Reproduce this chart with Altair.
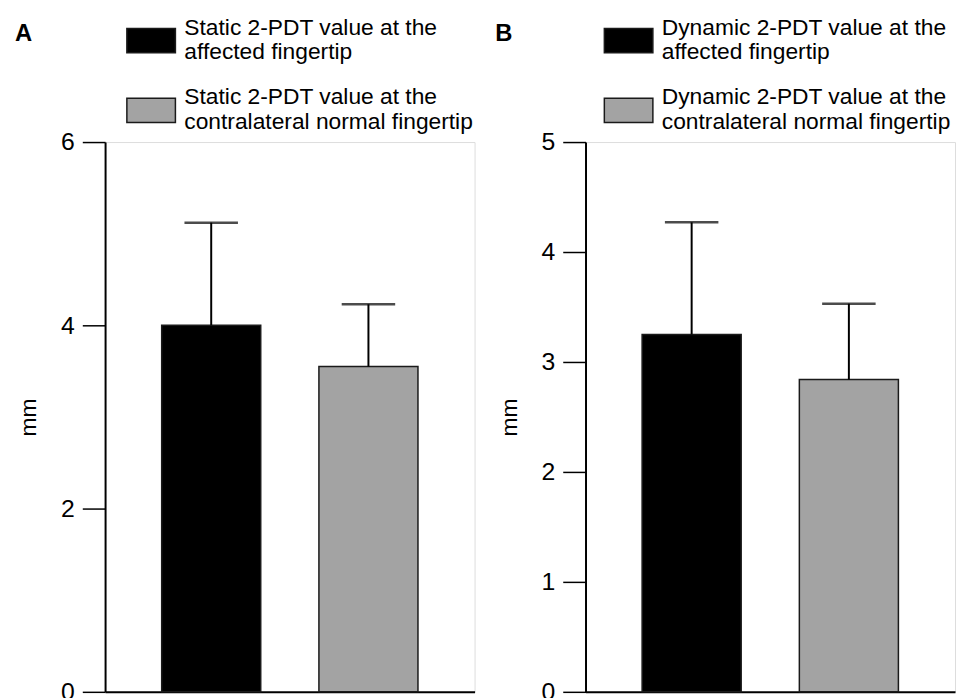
import altair as alt
import pandas as pd

# ---- data ----
static_labels = [
    "Static 2-PDT value at the\naffected fingertip",
    "Static 2-PDT value at the\ncontralateral normal fingertip",
]
static_mean = [4.00, 3.55]
static_upper = [5.12, 4.23]

dynamic_labels = [
    "Dynamic 2-PDT value at the\naffected fingertip",
    "Dynamic 2-PDT value at the\ncontralateral normal fingertip",
]
dynamic_mean = [3.25, 2.84]
dynamic_upper = [4.27, 3.53]

static_ticks = [0, 2, 4, 6]
dynamic_ticks = [0, 1, 2, 3, 4, 5]

FONT = "Liberation Sans"
BAR_COLORS = ["#000000", "#a3a3a3"]


def panel(letter, labels, means, uppers, ymax, ticks, legend_x):
    df = pd.DataFrame({"group": labels, "mean": means, "upper": uppers})
    x = alt.X(
        "group:N",
        sort=labels,
        scale=alt.Scale(paddingInner=0.37, paddingOuter=0.36),
        axis=alt.Axis(labels=False, ticks=False, title=None, domainColor="#000000",
                      domainWidth=2),
    )
    y_axis = alt.Axis(
        values=ticks, format="d", title="mm", grid=False, domainColor="#000000",
        domainWidth=2, tickColor="#000000", tickWidth=1.5, tickSize=23,
        labelFontSize=25, labelPadding=8, labelColor="#000000", titleFontSize=23,
        titleFontWeight="normal", titleColor="#000000", titlePadding=20,
        labelFont=FONT, titleFont=FONT,
    )
    base = alt.Chart(df)
    bars = base.mark_bar(stroke="#1a1a1a", strokeWidth=1.5).encode(
        x=x,
        y=alt.Y("mean:Q", scale=alt.Scale(domain=[0, ymax], nice=False), axis=y_axis),
        color=alt.Color(
            "group:N",
            sort=labels,
            scale=alt.Scale(domain=labels, range=BAR_COLORS),
            legend=alt.Legend(
                orient="none", legendX=legend_x, legendY=-128, title=None,
                symbolType="M-1,-0.5H1V0.5H-1Z", symbolSize=2401,
                symbolStrokeColor="#1a1a1a", symbolStrokeWidth=1.5,
                labelFontSize=23, labelFont=FONT, labelColor="#000000",
                labelBaseline="line-bottom",
                labelLimit=600, labelOffset=8, rowPadding=20.5,
                labelExpr="split(datum.label, '\\n')",
            ),
        ),
    )
    rule = base.mark_rule(color="#000000", strokeWidth=2).encode(
        x=alt.X("group:N", sort=labels), y="mean:Q", y2="upper:Q"
    )
    cap = base.mark_tick(color="#000000", thickness=2.5, size=54).encode(
        x=alt.X("group:N", sort=labels), y="upper:Q"
    )
    return alt.layer(bars, rule, cap).properties(
        width=373, height=555,
        title=alt.TitleParams(letter, anchor="start", frame="group", fontSize=24,
                              fontWeight="bold", font=FONT, color="#000000",
                              dx=-91, dy=31, offset=0),
    )


a = panel("A", static_labels, static_mean, static_upper, 6, static_ticks, 21)
b = panel("B", dynamic_labels, dynamic_mean, dynamic_upper, 5, dynamic_ticks, 18)

chart = (
    alt.hconcat(a, b, spacing=19)
    .resolve_scale(color="independent", y="independent", x="independent")
    .resolve_legend(color="independent")
    .properties(padding={"left": 6, "top": 3, "right": 0, "bottom": 0})
    .configure_view(stroke="transparent", strokeWidth=0)
    .configure(font=FONT)
)

chart.save("out.html", embed_options={"renderer": "svg", "actions": False})
